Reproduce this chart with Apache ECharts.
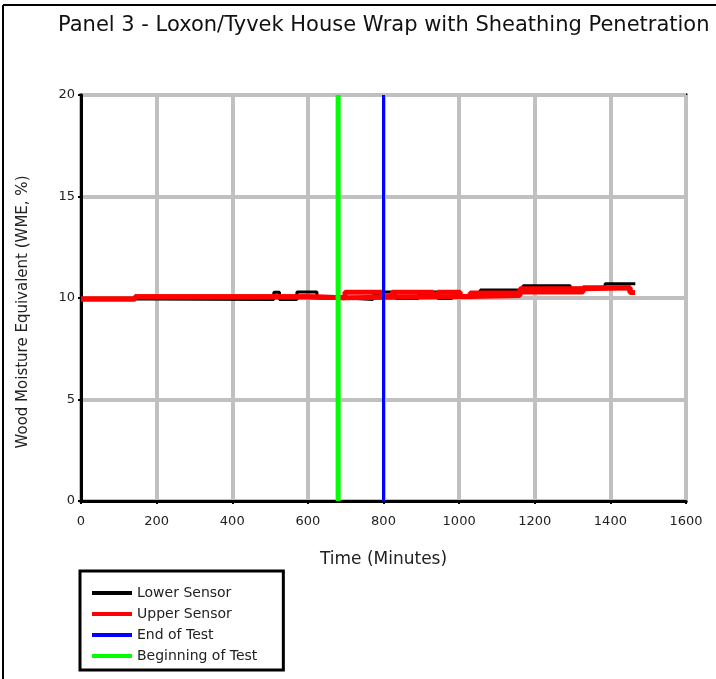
<!DOCTYPE html>
<html><head><meta charset="utf-8">
<script src="https://cdn.jsdelivr.net/npm/echarts@6/dist/echarts.min.js"></script>
<style>html,body{margin:0;padding:0;background:#fff}#c{width:716px;height:679px}</style>
</head><body><div id="c"></div>
<script>
// Lower sensor (stepped readings: value holds from time until next time)
const lowerTime  = [0, 175, 510, 525, 571, 624, 706, 772, 796, 823, 833, 892, 931, 944, 981, 1056, 1150, 1169, 1294, 1386, 1466];
const lowerValue = [9.95, 9.92, 10.28, 9.92, 10.3, 10.0, 9.93, 10.12, 10.3, 10.12, 9.97, 10.15, 10.3, 9.97, 10.1, 10.4, 10.35, 10.6, 10.48, 10.7, 10.7];
// Upper sensor, flickering: low and high envelope of readings
const upperLowTime  = [0, 143, 593, 698, 1003, 1029, 1161, 1328, 1452, 1465];
const upperLowValue = [9.95, 10.06, 10.01, 10.07, 10.08, 10.12, 10.3, 10.5, 10.27, 10.27];
const upperHighTime  = [0, 143, 593, 698, 796, 823, 931, 944, 1003, 1029, 1161, 1328, 1452, 1465];
const upperHighValue = [9.95, 10.06, 10.01, 10.28, 10.1, 10.28, 10.1, 10.28, 10.08, 10.25, 10.45, 10.5, 10.27, 10.27];
const beginOfTest = 680;
const endOfTest = 800;
const xTicks = [0, 200, 400, 600, 800, 1000, 1200, 1400, 1600];
const yTicks = [0, 5, 10, 15, 20];

const FONT = 'DejaVu Sans, Verdana, sans-serif';
const pairs = (t, v) => t.map((x, i) => [x, v[i]]);

const chart = echarts.init(document.getElementById('c'));
chart.setOption({
  animation: false,
  backgroundColor: '#fff',
  title: {
    text: 'Panel 3 - Loxon/Tyvek House Wrap with Sheathing Penetration',
    left: 53, top: 10,
    textStyle: {fontFamily: FONT, fontSize: 21, fontWeight: 'normal', color: '#111'}
  },
  graphic: [
    {type: 'line', shape: {x1: 3, y1: 5, x2: 716, y2: 5}, style: {stroke: '#000', lineWidth: 2}},
    {type: 'line', shape: {x1: 3, y1: 5, x2: 3, y2: 679}, style: {stroke: '#000', lineWidth: 2}}
  ],
  grid: {left: 81, right: 30, top: 95, bottom: 178, show: true, borderColor: '#000', borderWidth: 3, containLabel: false},
  xAxis: {
    type: 'value', min: xTicks[0], max: xTicks[xTicks.length - 1], interval: 200,
    name: 'Time (Minutes)', nameLocation: 'middle', nameGap: 50,
    nameTextStyle: {fontFamily: FONT, fontSize: 17, color: '#222'},
    axisLine: {show: true, lineStyle: {color: '#000', width: 3}},
    axisTick: {show: true, length: 3, lineStyle: {color: '#000', width: 2}},
    axisLabel: {fontFamily: FONT, fontSize: 13, color: '#222', margin: 14, formatter: v => String(v)},
    splitLine: {show: true, lineStyle: {color: '#c0c0c0', width: 4}}
  },
  yAxis: {
    type: 'value', min: yTicks[0], max: yTicks[yTicks.length - 1], interval: 5,
    name: 'Wood Moisture Equivalent (WME, %)', nameLocation: 'middle', nameGap: 50, nameRotate: 90,
    nameTextStyle: {fontFamily: FONT, fontSize: 15, color: '#222', padding: [0, 28, 0, 0]},
    axisLine: {show: true, lineStyle: {color: '#000', width: 3}},
    axisTick: {show: true, length: 3, lineStyle: {color: '#000', width: 2}},
    axisLabel: {fontFamily: FONT, fontSize: 13, color: '#222', margin: 6, formatter: v => String(v)},
    splitLine: {show: true, lineStyle: {color: '#c0c0c0', width: 4}}
  },
  legend: {
    orient: 'vertical', left: 80, top: 571,
    data: ['Lower Sensor', 'Upper Sensor', 'End of Test', 'Beginning of Test'],
    icon: 'rect', itemWidth: 40, itemHeight: 4, itemGap: 7,
    padding: [15, 26, 7, 12],
    borderColor: '#000', borderWidth: 3,
    textStyle: {fontFamily: FONT, fontSize: 14, color: '#222'}
  },
  series: [
    {name: 'Lower Sensor', type: 'line', step: 'end', symbol: 'none', data: pairs(lowerTime, lowerValue),
     lineStyle: {color: '#000', width: 3}, itemStyle: {color: '#000'}, z: 3},
    {name: 'Upper Sensor', type: 'line', step: 'end', symbol: 'none', data: pairs(upperLowTime, upperLowValue),
     lineStyle: {color: '#ff0000', width: 5}, itemStyle: {color: '#ff0000'}, z: 4},
    {name: 'Upper Sensor', type: 'line', step: 'end', symbol: 'none', data: pairs(upperHighTime, upperHighValue),
     lineStyle: {color: '#ff0000', width: 5}, itemStyle: {color: '#ff0000'}, z: 4},
    {name: 'End of Test', type: 'line', symbol: 'none', data: [[endOfTest, yTicks[0]], [endOfTest, yTicks[yTicks.length - 1]]],
     lineStyle: {color: '#0000ff', width: 3}, itemStyle: {color: '#0000ff'}, z: 5},
    {name: 'Beginning of Test', type: 'line', symbol: 'none', data: [[beginOfTest, yTicks[0]], [beginOfTest, yTicks[yTicks.length - 1]]],
     lineStyle: {color: '#00ff00', width: 5}, itemStyle: {color: '#00ff00'}, z: 5}
  ]
});
</script></body></html>
